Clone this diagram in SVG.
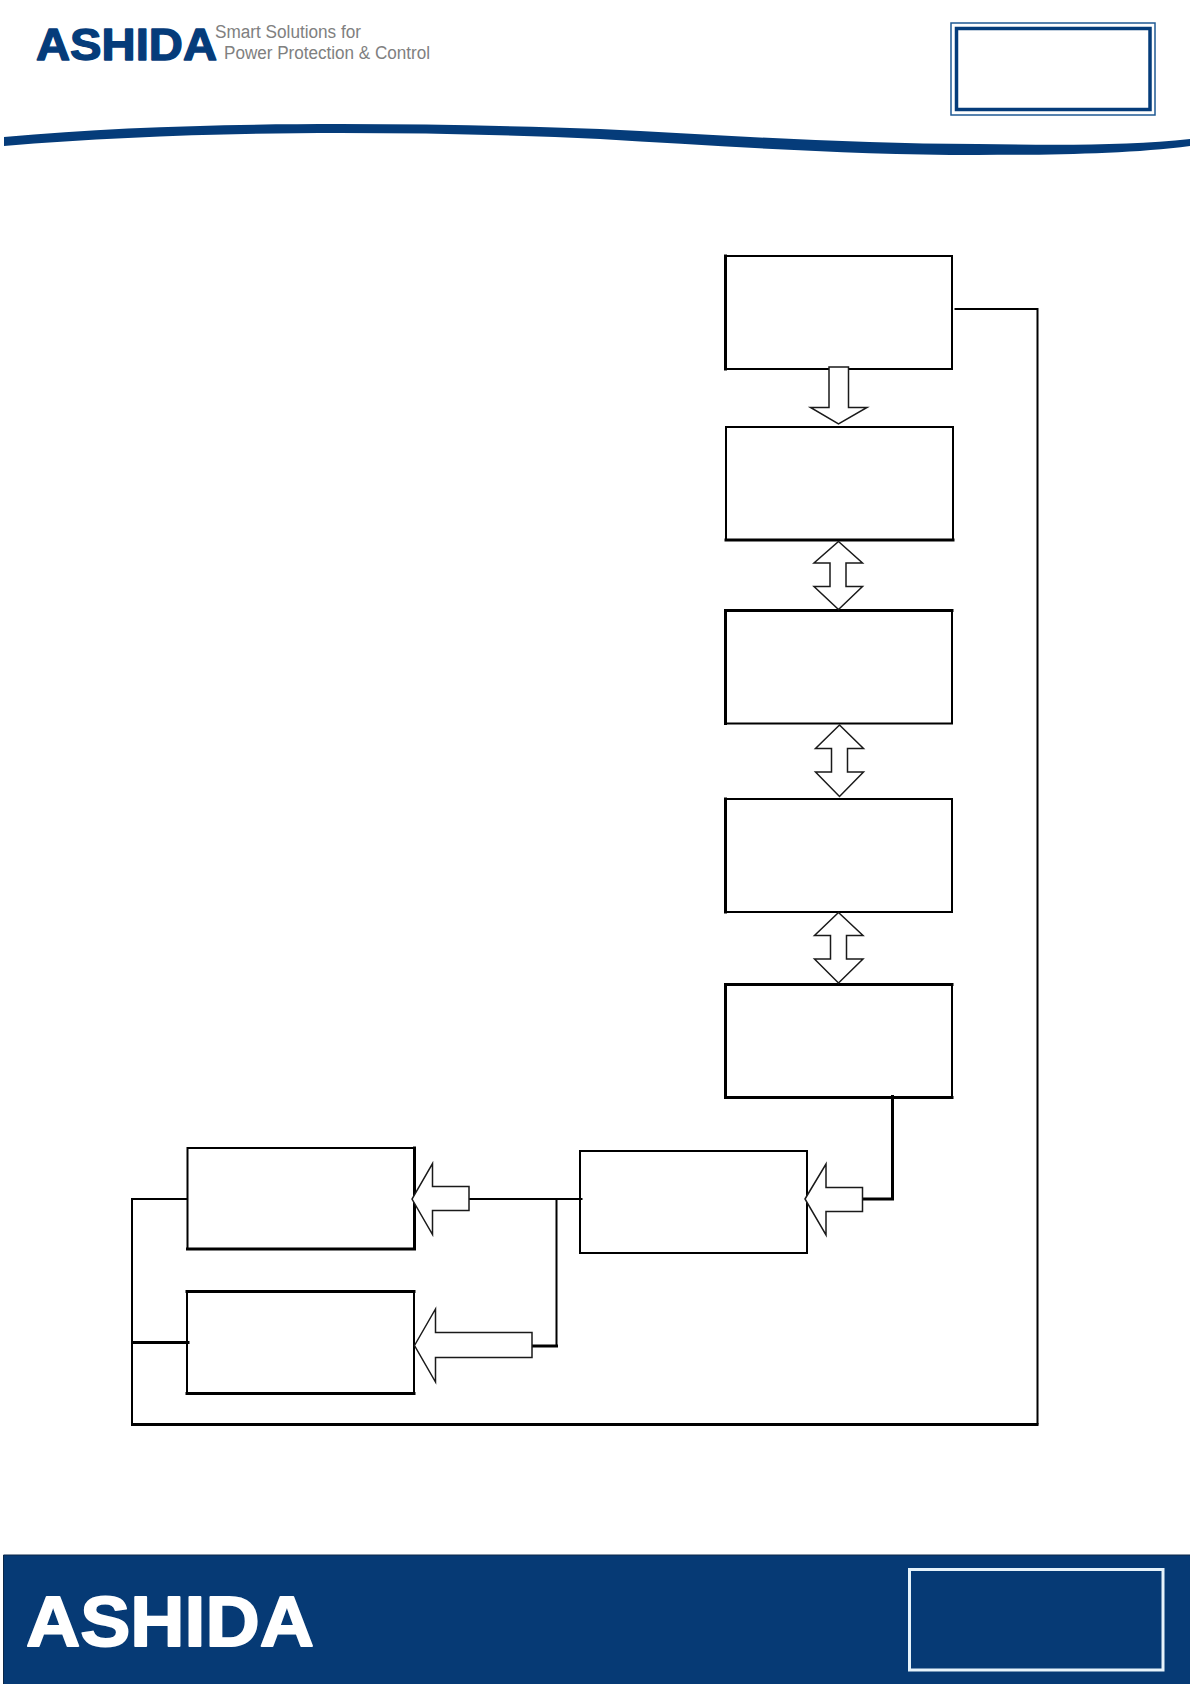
<svg xmlns="http://www.w3.org/2000/svg" width="1191" height="1684" viewBox="0 0 1191 1684">
<style>
.box{fill:#fff;stroke:#000;stroke-width:2}
.edge{fill:none;stroke:#000;stroke-width:3;stroke-linecap:square}
.wire{fill:none;stroke:#000;stroke-width:2}
.wire3{fill:none;stroke:#000;stroke-width:3}
.arrow{fill:#fff;stroke:#1a1a1a;stroke-width:1.5;stroke-linejoin:miter}
.brand{font-family:"Liberation Sans",Arial,sans-serif;font-weight:700;stroke-linejoin:round}
.tag{font-family:"Liberation Sans",Arial,sans-serif;fill:#808080;font-size:18px}
</style>
<rect width="1191" height="1684" fill="#fff"/>
<g id="header">
<text class="brand" x="36" y="59.5" font-size="45" fill="#053c7a" stroke="#053c7a" stroke-width="1.4" textLength="181" lengthAdjust="spacingAndGlyphs">ASHIDA</text>
<text class="tag" x="215" y="38" textLength="146" lengthAdjust="spacingAndGlyphs">Smart Solutions for</text>
<text class="tag" x="224" y="59" textLength="206" lengthAdjust="spacingAndGlyphs">Power Protection &amp; Control</text>
<path d="M4 137 C110 127 230 124 340 124 C430 124 520 126 600 129 C720 135 850 144 977 144 C1050 145 1130 146 1190 139 L1190 146 C1130 154 1050 155 977 155 C850 155 720 146 600 139 C520 135 430 133 340 133 C230 133 110 137 4 146 Z" fill="#053c7a"/>
<rect x="951" y="23" width="204" height="92" fill="none" stroke="#1f5a94" stroke-width="1.5"/>
<rect x="956.5" y="28.5" width="193.5" height="81" fill="none" stroke="#053c7a" stroke-width="3.5"/>
</g>
<g id="footer">
<rect x="3.5" y="1555" width="1186.5" height="129" fill="#063a75"/>
<path d="M3.5 1684V1555H1190" fill="none" stroke="#0b2748" stroke-width="1"/>
<text class="brand" x="26" y="1645.5" font-size="70" fill="#fff" stroke="#fff" stroke-width="1.8" textLength="288" lengthAdjust="spacingAndGlyphs">ASHIDA</text>
<rect x="909.5" y="1569.5" width="253.5" height="100.5" fill="none" stroke="#e6f3fb" stroke-width="3"/>
</g>
<g id="node-1"><rect class="box" x="725.5" y="256" width="226.5" height="113"/><path class="edge" d="M725.5 256V369"/></g>
<g id="node-2"><rect class="box" x="726" y="427" width="227" height="113"/><path class="edge" d="M726 540H953"/></g>
<g id="node-3"><rect class="box" x="725.5" y="610.5" width="226.5" height="113"/><path class="edge" d="M725.5 723.5V610.5H952"/></g>
<g id="node-4"><rect class="box" x="725.5" y="799" width="226.5" height="113"/><path class="edge" d="M725.5 799V912"/></g>
<g id="node-5"><rect class="box" x="725.5" y="984.5" width="226.5" height="113"/><path class="edge" d="M952 984.5H725.5V1097.5H952"/></g>
<g id="node-6"><rect class="box" x="187.5" y="1148" width="227" height="101"/><path class="edge" d="M414.5 1148V1249H187.5"/></g>
<g id="node-7"><rect class="box" x="187" y="1291.5" width="227" height="102"/><path class="edge" d="M187 1291.5H414M187 1393.5H414"/></g>
<g id="node-8"><rect class="box" x="580" y="1151" width="227" height="102"/></g>
<g id="connectors">
<path class="wire" d="M954.5 309H1037.5V1424.5M132 1424.5V1199H188"/>
<path class="wire3" d="M131 1424.5H1038.5"/>
<path class="wire3" d="M132 1342.5H189.5"/>
<path class="wire" d="M469 1199H582.5M556.5 1199V1345.5"/>
<path class="wire3" d="M558 1346H528.5"/>
<path class="wire3" d="M892.5 1095V1199H862"/>
<path class="arrow" d="M829 367H848.5V407.5H867L838.5 424L810.5 407.5H829Z"/>
<path class="arrow" d="M838.5 541.5L862.5 563H846V586.5H862.5L838.5 609.5L814 586.5H830V563H814Z"/>
<path class="arrow" d="M839.5 725L863.5 748.5H847.5V772H863.5L839.5 796.5L815.5 772H831.5V748.5H815.5Z"/>
<path class="arrow" d="M838.5 912.5L863 935.5H846.5V959H863L838.5 983L814.5 959H830.5V935.5H814.5Z"/>
<path class="arrow" d="M412 1199L432.5 1163.5V1186.5H469V1210.5H432.5V1234.5Z"/>
<path class="arrow" d="M414.5 1345.5L435.5 1309V1332.5H532V1357.5H435.5V1382Z"/>
<path class="arrow" d="M805 1199L826 1164V1187.5H862.5V1211.5H826V1235Z"/>
</g>
</svg>
